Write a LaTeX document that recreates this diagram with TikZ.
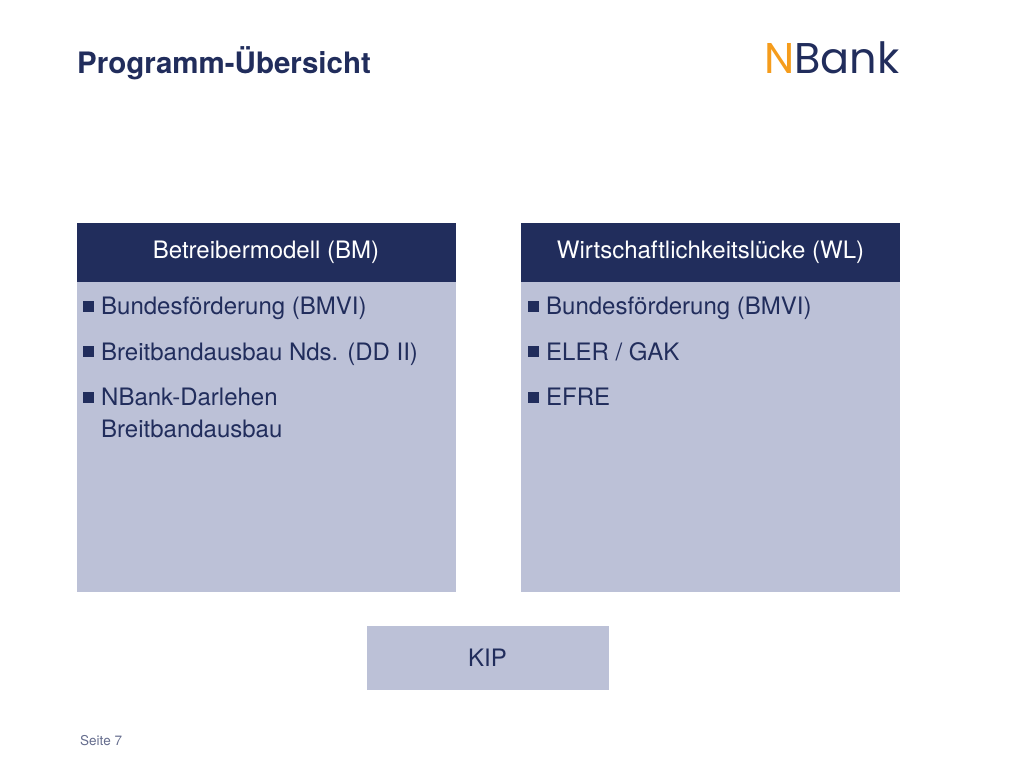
\documentclass[tikz,border=0pt]{standalone}
\usepackage{fontspec}
\setmainfont{TeX Gyre Heros}
\newfontfamily\logofont{Poppins}
\usetikzlibrary{positioning}
\definecolor{navy}{HTML}{212D5C}
\definecolor{pale}{HTML}{BCC1D7}
\definecolor{logoorange}{HTML}{F59C1C}
\tikzset{
    headbox/.style={shape=rectangle,fill=navy,text=white,minimum width=379pt,minimum height=59pt,inner sep=0pt,font=\fontsize{24}{29}\selectfont},
    bodybox/.style={shape=rectangle,fill=pale,minimum width=379pt,minimum height=310pt,inner sep=0pt},
    entry/.style={anchor=base west,inner sep=0pt,text=navy,font=\fontsize{24}{32}\selectfont},
    bullet/.style={shape=rectangle,fill=navy,minimum width=11pt,minimum height=11pt,inner sep=0pt}
}

\begin{document}
\begin{tikzpicture}[x=1pt,y=-1pt]
    \useasboundingbox (0,0) rectangle (1024,768);

    % title and logo
    \node [anchor=base west, inner sep=0pt, text=navy, font=\fontsize{29.5}{35}\selectfont\bfseries] at (77,73) (title) {Programm-Übersicht};
    \node [anchor=base west, inner sep=0pt, text=navy, font=\fontsize{43}{50}\logofont\selectfont] at (764,74) (logo) {\textcolor{logoorange}{N}Bank};

    % left column
    \node [headbox] at (266,252.5) (headbm) {Betreibermodell (BM)};
    \node [bodybox, below=0pt of headbm] (bodybm) {};
    \node [entry] at (101,314) (bm1) {Bundesförderung (BMVI)};
    \node [entry] at (101,360) (bm2) {Breitbandausbau Nds. (DD II)};
    \node [entry] at (101,405) (bm3) {NBank-Darlehen};
    \node [entry] at (101,437) (bm4) {Breitbandausbau};
    \node [bullet] at (88.5,306) (dotbm1) {};
    \node [bullet] at (88.5,351) (dotbm2) {};
    \node [bullet] at (88.5,397) (dotbm3) {};

    % right column
    \node [headbox] at (710.5,252.5) (headwl) {Wirtschaftlichkeitslücke (WL)};
    \node [bodybox, below=0pt of headwl] (bodywl) {};
    \node [entry] at (546,314) (wl1) {Bundesförderung (BMVI)};
    \node [entry] at (546,360) (wl2) {ELER / GAK};
    \node [entry] at (546,405) (wl3) {EFRE};
    \node [bullet] at (533,306) (dotwl1) {};
    \node [bullet] at (533,351) (dotwl2) {};
    \node [bullet] at (533,397) (dotwl3) {};

    % bottom box and page number
    \node [bodybox, minimum width=242pt, minimum height=64pt, text=navy, font=\fontsize{24}{29}\selectfont] at (487.5,658) (kip) {KIP};
    \node [anchor=base west, inner sep=0pt, text=navy!70, font=\fontsize{13.5}{16}\selectfont] at (80,745) (page) {Seite 7};
\end{tikzpicture}
\end{document}
